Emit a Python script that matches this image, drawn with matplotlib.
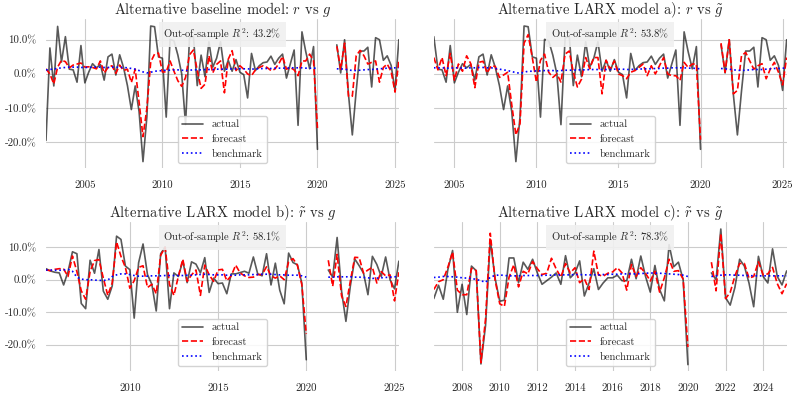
import numpy as np
import pandas as pd
import matplotlib
matplotlib.use("Agg")
import matplotlib.pyplot as plt
import matplotlib.dates as mdates
from matplotlib.ticker import FuncFormatter
import seaborn as sns

nan = np.nan
gap = [nan] * 4   # 2020Q1 - 2020Q4 dropped

# ---- top row: r (actual) vs forecasts, quarterly, 2002Q2 - 2025Q1 ----
actual_top = [-19.4, 7.6, -3.5, 13.9, 3.5, 10.9, 1.4, 1.2, -2.4, 8.3,
              -2.6, 0.5, 3.0, 1.8, 2.8, -1.8, 5.0, 5.8, -0.3, 5.6,
              1.9, -3.4, -10.4, -3.5, -11.0, -25.6, -12.5, 14.0, 13.8, 5.0,
              4.6, -12.6, 10.1, 9.7, 5.5, 0.0, -14.8, 10.5, 11.0, -3.4,
              5.5, -0.8, 9.4, 2.0, 4.6, 9.4, 0.8, 4.0, 0.8, 4.2,
              0.5, -0.2, -7.0, 6.0, 1.0, 2.4, 3.3, 3.5, 5.2, 2.8,
              4.6, 5.8, -1.2, 2.9, 7.0, -15.0, 12.3, 6.5, 1.5, 8.0,
              -22.0] + gap + \
             [8.5, 0.3, 10.0, -6.0, -17.8, -5.0, 6.7, 6.7, 7.8, -3.8,
              10.6, 10.0, 4.0, 5.3, 2.5, -4.8, 10.0]

forecast_base = [1.5, 0.0, -2.9, 2.0, 4.0, 3.6, 1.8, 2.6, 2.9, 3.2,
                 2.0, 2.1, 1.9, 1.5, 3.8, 0.3, 1.9, 2.4, 0.2, 2.6,
                 1.0, 1.4, -2.5, 1.4, -8.2, -18.3, -10.0, 3.5, 5.8, 6.1,
                 0.6, 0.6, 3.8, 0.8, -2.0, -3.6, -1.0, 5.6, 7.0, 1.0,
                 -4.2, -3.0, 5.3, 0.3, 2.8, 3.8, -5.5, 4.3, 6.8, 1.0,
                 2.4, 1.4, 0.0, -0.5, 1.2, 1.9, 2.4, 1.9, 1.0, 1.4,
                 2.9, 5.1, 1.4, 1.9, 1.2, -0.5, 3.8, 3.8, 5.8, 3.8,
                 -15.9] + gap + \
                [8.1, 1.4, 9.0, -6.5, -6.5, 5.3, 6.9, 5.3, 2.9, 3.4,
                 3.8, -2.4, 1.9, 2.9, 0.7, -5.3, 3.8]

bench_base = [1.2, 1.3, 1.5, 1.6, 1.8, 1.9, 2.0, 2.0, 2.0, 1.9,
              1.9, 1.9, 2.0, 2.0, 2.0, 1.9, 1.9, 2.0, 2.0, 1.9,
              1.9, 1.8, 1.6, 1.4, 1.0, 0.6, 0.3, 0.5, 0.8, 0.9,
              1.0, 1.1, 1.1, 1.2, 1.2, 1.1, 1.0, 1.1, 1.2, 1.2,
              1.2, 1.3, 1.3, 1.3, 1.4, 1.4, 1.4, 1.4, 1.5, 1.5,
              1.5, 1.5, 1.5, 1.4, 1.5, 1.5, 1.6, 1.6, 1.6, 1.7,
              1.7, 1.7, 1.7, 1.8, 1.8, 1.8, 1.8, 1.7, 1.7, 1.7,
              1.6] + gap + \
             [1.5, 1.5, 1.4, 1.2, 1.0, 1.0, 1.1, 1.2, 1.3, 1.3,
              1.4, 1.5, 1.6, 1.7, 1.7, 1.8, 1.8]

# model a) starts 2003Q3
forecast_a = [4.8, 1.2, 4.8, -0.5, 6.0, -1.8, 2.9, 0.8, 5.3, 3.0,
              -4.0, 3.4, 3.7, 0.3, 2.4, 2.2, -1.0, -0.3, 0.5, -9.0,
              -17.8, -14.5, 9.0, 11.5, 4.8, -2.4, 4.0, 5.8, 0.5, -1.0,
              0.0, -2.4, 5.8, 6.7, 0.5, -3.8, -1.5, 4.8, 1.5, 4.8,
              4.8, -5.8, 4.0, 1.4, 3.8, 0.0, -0.5, -1.4, 0.5, 1.0,
              1.9, 2.9, -0.5, 2.4, 0.0, 2.4, 4.8, 0.0, -0.5, -0.5,
              -1.9, 3.4, 1.9, 2.9, 2.9, -19.2] + gap + \
             [9.0, 0.5, 10.0, -5.8, -4.8, 5.3, 6.3, 3.8, 1.4, 2.4,
              3.0, -1.4, 1.4, 3.4, 0.5, -3.2, 4.8]

bench_a = [1.8, 1.8, 1.8, 1.7, 1.7, 1.8, 1.8, 1.7, 1.7, 1.8,
           1.8, 1.9, 1.9, 1.8, 1.8, 1.6, 1.4, 1.2, 1.0, 0.7,
           0.4, 0.2, 0.5, 0.8, 0.8, 0.9, 0.9, 1.0, 1.0, 1.0,
           0.9, 1.0, 1.1, 1.1, 1.1, 1.2, 1.2, 1.2, 1.3, 1.3,
           1.3, 1.3, 1.3, 1.3, 1.4, 1.4, 1.4, 1.3, 1.3, 1.4,
           1.4, 1.5, 1.5, 1.5, 1.6, 1.6, 1.7, 1.7, 1.8, 1.8,
           1.8, 1.8, 1.7, 1.7, 1.6, 1.5] + gap + \
          [1.6, 1.5, 1.4, 1.2, 1.1, 1.0, 1.1, 1.2, 1.3, 1.3,
           1.3, 1.4, 1.5, 1.6, 1.6, 1.7, 1.7]

# ---- model b): r~ vs g, 2005Q1 - 2025Q1 ----
actual_b = [3.4, 2.7, 2.3, 2.1, -1.6, 2.5, 8.6, 8.0, -7.3, -8.9,
            6.0, 2.0, 9.3, -3.5, -6.0, -1.9, 13.4, 12.4, 4.2, 3.1,
            -11.8, 5.2, 11.0, 1.6, -1.4, -9.6, 8.0, 10.1, -8.9, 2.1,
            1.0, 5.8, -0.9, 5.5, 4.8, 2.1, 6.8, -3.9, 0.5, -1.2,
            -1.0, -4.3, 1.8, 1.8, 2.2, 2.6, 2.0, 7.0, 1.8, 1.2,
            8.0, -1.6, 5.1, -3.2, -7.4, 8.2, 5.3, 4.6, -1.0, -24.6] + gap + \
           [3.0, 0.8, 13.0, -3.5, -12.8, -2.0, 6.4, 4.3, 2.0, -4.6,
            7.2, 4.7, 1.0, 7.0, 0.0, -2.8, 5.7]

forecast_b = [3.0, 2.8, 3.2, 3.4, 3.3, 1.0, 7.3, 2.5, -3.4, -6.0,
              2.5, 5.9, 6.2, 0.5, -4.8, -1.0, 11.6, 7.2, 3.8, -2.6,
              -0.3, 3.8, 4.3, -2.4, -1.4, -4.3, 7.5, 10.0, -1.5, -4.8,
              1.0, 6.3, -0.5, 1.5, 3.0, -4.8, 4.5, 1.5, -0.5, 3.0,
              3.2, -0.3, 1.2, 4.5, 2.1, 1.2, 0.7, 0.8, 1.6, 1.6,
              4.0, 1.2, 0.5, 1.2, 0.0, 5.5, 6.5, 4.5, -1.5, -16.7] + gap + \
             [6.0, -2.0, 7.8, -5.0, -8.2, -0.5, 6.9, 6.8, 2.0, 3.0,
              3.8, -1.0, 2.5, 1.2, 1.5, -6.5, 2.3]

bench_b = [3.0, 3.0, 2.9, 2.9, 3.0, 3.2, 2.6, 0.8, 0.2, 0.0,
           0.0, -0.1, -0.2, -0.2, -0.1, 1.0, 1.5, 1.8, 1.8, 1.6,
           1.3, 1.1, 1.1, 1.1, 1.2, 1.2, 1.2, 1.3, 1.3, 1.3,
           1.3, 1.3, 1.4, 1.4, 1.5, 1.6, 1.7, 1.6, 1.5, 1.5,
           1.5, 1.4, 1.4, 1.4, 1.5, 1.5, 1.5, 1.6, 1.6, 1.7,
           1.7, 1.7, 1.6, 1.5, 1.5, 1.4, 1.4, 1.4, 1.2, 0.8] + gap + \
          [0.8, 0.8, 0.9, 0.9, 0.9, 0.9, 0.8, 0.8, 0.7, 0.6,
           0.4, 0.5, 0.6, 0.7, 0.8, 0.9, 1.0]

# ---- model c): r~ vs g~, 2006Q2 - 2025Q1 ----
actual_c = [-5.8, -1.7, -6.0, 3.2, 9.0, -10.0, -1.4, -10.7, 4.2, 2.8,
            -25.9, -14.0, 12.3, 0.6, -6.6, -6.3, 6.7, 6.7, -0.9, 5.4,
            3.2, 6.3, 2.1, -1.4, -0.3, 0.8, 2.1, -1.4, 7.4, 0.6,
            2.1, 5.8, -5.0, -1.0, 3.4, -3.0, -1.0, 0.6, 0.6, 1.4,
            -0.3, -0.3, 6.3, 0.3, 7.3, 1.0, -3.8, 4.4, -3.0, -6.5,
            10.8, 4.0, 5.4, 0.0, -26.1] + gap + \
           [2.1, 0.0, 15.6, -5.5, -7.8, -2.4, 6.3, 4.2, -1.0, -8.3,
            7.2, 1.0, -1.0, 9.5, 1.0, -1.6, 2.7]

forecast_c = [-3.0, -0.6, 0.0, 3.9, 8.5, -3.2, -4.6, -4.6, 3.5, 2.8,
              -25.5, -12.0, 14.3, 0.1, -7.4, -8.2, 0.8, 4.6, -2.2, 2.6,
              1.8, 5.6, 3.4, 1.6, 2.0, 6.6, 3.3, 0.8, 5.0, 2.1,
              3.7, -0.9, 0.3, -3.0, 8.8, 1.5, 1.1, 2.0, 2.4, 3.7,
              2.1, -3.2, 4.7, 1.0, 3.7, 2.0, -0.4, 2.6, -3.8, 0.6,
              6.3, 2.6, 2.8, 0.2, -20.7] + gap + \
             [5.4, -3.4, 14.2, -5.8, -3.9, 1.1, 5.0, 5.0, 0.5, 1.0,
              5.5, 1.5, 1.8, 3.8, -1.2, -4.3, -1.2]

bench_c = [0.7, 0.8, 1.0, 1.0, 0.9, 0.8, 0.6, 0.5, 0.4, 0.1,
           -0.3, -0.8, 0.8, 1.3, 1.5, 1.3, 1.2, 1.2, 1.2, 1.3,
           1.3, 1.3, 1.3, 1.3, 1.4, 1.4, 1.5, 1.5, 1.5, 1.5,
           1.6, 1.6, 1.5, 1.5, 1.5, 1.5, 1.6, 1.6, 1.7, 1.7,
           1.8, 1.8, 1.8, 1.8, 1.9, 2.0, 2.1, 2.0, 2.0, 1.9,
           1.8, 1.7, 1.6, 1.4, 1.0] + gap + \
          [1.0, 1.2, 1.4, 1.5, 1.5, 1.4, 1.4, 1.3, 1.3, 1.2,
           1.2, 1.2, 1.2, 1.2, 1.2, 1.2, 1.2]

titles = [r'Alternative baseline model: $r$ vs $g$',
          r'Alternative LARX model a): $r$ vs $\tilde{g}$',
          r'Alternative LARX model b): $\tilde{r}$ vs $g$',
          r'Alternative LARX model c): $\tilde{r}$ vs $\tilde{g}$']
r2 = [43.2, 53.8, 58.1, 78.3]
starts = ['2002Q2', '2003Q3', '2005Q1', '2006Q2']
tick_step = [5, 5, 5, 2]
panels = [(actual_top, forecast_base, bench_base),
          (actual_top[5:], forecast_a, bench_a),
          (actual_b, forecast_b, bench_b),
          (actual_c, forecast_c, bench_c)]

sns.set_style("whitegrid")
plt.rcParams['font.family'] = ['cmr10', 'DejaVu Serif']
plt.rcParams['mathtext.fontset'] = 'cm'
plt.rcParams['axes.unicode_minus'] = False

fig, axes = plt.subplots(2, 2, figsize=(7.93, 3.93), dpi=100, sharey='row')
fig.subplots_adjust(left=0.058, right=0.992, top=0.951, bottom=0.055,
                    wspace=0.099, hspace=0.361)

for i, ax in enumerate(axes.flat):
    act, fc, bm = panels[i]
    dates = pd.period_range(starts[i], '2025Q1', freq='Q').to_timestamp(how='end')
    ax.plot(dates, act, color='k', alpha=0.65, lw=1.2, label='actual')
    ax.plot(dates, fc, color='r', ls='--', lw=1.2, label='forecast')
    ax.plot(dates, bm, color='b', ls=':', lw=1.2, label='benchmark')
    ax.set_xlim(dates[0], dates[-1])
    ax.xaxis.set_major_locator(mdates.YearLocator(tick_step[i]))
    ax.xaxis.set_major_formatter(mdates.DateFormatter('%Y'))
    ax.yaxis.set_major_formatter(FuncFormatter(lambda v, p: '%.1f%%' % v))
    ax.tick_params(labelsize=7.8, colors='0.15', length=0)
    ax.tick_params(axis='x', pad=8.5)
    ax.tick_params(axis='y', pad=7)
    ax.set_title(titles[i], fontsize=10.5, color='0.15', pad=3.5)
    ax.text(0.5, 0.951, r'Out-of-sample $R^2$: %.1f%%' % r2[i], transform=ax.transAxes,
            ha='center', va='top', fontsize=7.6, color='0.15', zorder=5,
            bbox=dict(boxstyle='square,pad=0.45', facecolor='#f0f0f0',
                      edgecolor='none', alpha=0.9))
    ax.legend(loc='lower center', fontsize=7.6, frameon=True, framealpha=0.85,
              edgecolor='0.8')
    for s in ax.spines.values():
        s.set_visible(False)

plt.savefig('out.png', dpi=100)
